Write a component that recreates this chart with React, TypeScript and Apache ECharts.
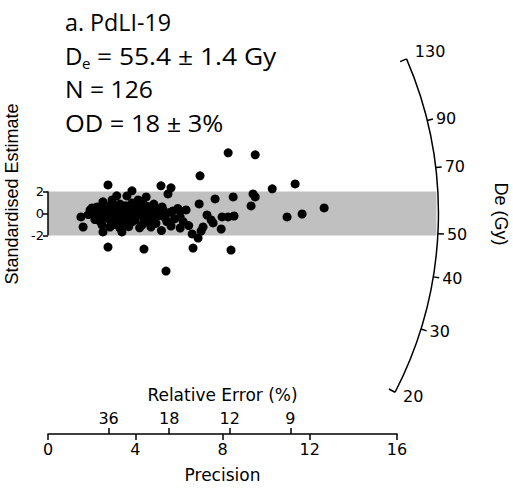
import React, { useEffect, useRef } from "react";
import * as echarts from "echarts";

// ---- data ----
const centralDe = 55.4; // Gy
const deTicks = [20, 30, 40, 50, 70, 90, 130];
const deEnds = [20, 130];
const relErrorTicks = [36, 18, 12, 9];
const precisionTicksMax = 16;
const bandHalfWidth = 2;
const arcRadius = 17.9; // in precision units

const precisionValues = [
  8.26, 9.5, 6.97, 10.28, 11.33, 9.4, 9.5, 9.31, 10.96, 11.65, 12.66,
  6.93, 7.66, 8.49, 7.29, 7.48, 7.57, 7.98, 8.26, 8.53, 7.11, 7.02, 6.61, 6.88, 7.94, 6.65, 8.39,
  5.18, 5.64, 5.5, 3.85, 4.5, 3.62, 4.13, 3.53, 3.76, 3.99, 4.22, 4.45, 4.68, 4.91, 5.23, 5.73, 6.06,
  6.33, 5.37, 6.06, 4.31, 4.72, 5.64, 6.06, 3.85, 4.91, 4.4, 5.41,
  2.75, 2.94, 2.52, 1.51, 1.61, 2.02, 2.25, 2.06, 2.29, 2.52, 2.71, 2.48, 2.52, 2.84, 3.17, 3.3,
  3.39, 2.98, 3.21, 3.49, 3.44, 2.75, 1.93,
  1.85, 2.15, 2.35, 2.4, 2.6, 2.65, 2.8, 2.85, 2.9, 3.0, 3.05, 3.1, 3.25, 3.3, 3.4, 3.45, 3.55, 3.6,
  3.65, 3.7, 3.8, 3.85, 3.9, 4.0, 4.05, 4.1, 4.2, 4.25, 4.35, 4.4, 4.5, 4.55, 4.6, 4.7, 4.8, 4.85,
  4.95, 5.0, 5.1, 5.2, 5.3, 5.45, 5.6, 5.8, 5.95, 6.2, 6.45, 3.15,
];
const standardisedValues = [
  5.5, 5.32, 3.41, 2.23, 2.68, 1.77, 1.5, 0.68, -0.32, -0.05, 0.5,
  0.86, 1.32, 1.5, -0.14, -0.59, -0.86, -0.32, -0.32, -0.23, -1.23, -1.59, -1.86, -2.23, -1.41, -3.14, -3.32,
  2.5, 2.32, 1.77, 2.05, 1.5, 1.59, 1.23, 0.5, 0.59, 0.41, 0.5, 0.23, 0.41, 0.5, 0.59, 0.23, 0.23,
  0.32, -0.41, -0.32, -1.05, -1.23, -1.14, -1.32, -0.77, -0.41, -3.23, -5.23,
  2.59, 1.23, 1.05, -0.32, -1.23, 0.5, 0.59, 0.05, -0.32, 0.14, -0.41, -1.05, -1.68, -1.23, -0.77, -1.32,
  -1.68, 0.59, 0.14, -0.05, -0.32, -3.05, 0.32,
  -0.1, -0.55, 0.3, -0.75, 0.45, -0.2, 0.25, -0.65, 0.8, -0.1, -1.0, 0.45, -0.45, 0.85, 0.1, -0.9, 0.7, -0.55,
  0.2, -1.2, -0.2, 0.95, 0.1, -0.6, 0.75, -0.15, -1.3, 0.05, 0.9, -0.45, -0.05, 0.65, -0.8, 0.1, -0.35, 0.85,
  -0.9, 0.05, -0.2, -1.55, 0.25, -0.75, 0.1, -0.5, 0.45, -0.75, -1.1, 1.6,
];

const titleLines = ["a. PdLI-19", "N = 126", "OD = 18 \u00b1 3%"];
const deLine = "= 55.4 \u00b1 1.4 Gy";

const AXIS_FONT = "DejaVu Sans";
const TITLE_FONT = "Open Sans";

export default function App() {
  const ref = useRef<HTMLDivElement>(null);
  useEffect(() => {
    if (!ref.current) return;
    const chart = echarts.init(ref.current, undefined, { renderer: "svg" });
    const z0 = Math.log(centralDe);
    const relPositions = relErrorTicks.map((e) => 100 / e);
    const points = precisionValues.map((p, i) => [p, standardisedValues[i]]);
    const black = "#000";
    const titleStyle = (text: string, size = 24) => ({
      text,
      fill: black,
      fontSize: size,
      fontFamily: TITLE_FONT,
      verticalAlign: "middle",
    });

    const option: any = {
      animation: false,
      grid: { left: 48, right: 116, top: 37, bottom: 56, outerBoundsMode: "none" },
      xAxis: [
        {
          type: "value",
          min: 0,
          max: precisionTicksMax,
          interval: 4,
          position: "bottom",
          axisLine: { show: true, onZero: false, lineStyle: { color: black, width: 1.5 } },
          axisTick: { show: true, length: 6, lineStyle: { color: black, width: 1.5 } },
          axisLabel: { color: black, fontSize: 16, fontFamily: AXIS_FONT, margin: 7 },
          splitLine: { show: false },
          name: "Precision",
          nameLocation: "middle",
          nameGap: 32,
          nameTextStyle: { color: black, fontSize: 17, fontFamily: AXIS_FONT },
        },
        {
          type: "value",
          min: 0,
          max: precisionTicksMax,
          position: "bottom",
          axisLine: { show: false, onZero: false },
          axisTick: {
            show: true,
            inside: true,
            length: 6,
            customValues: relPositions,
            lineStyle: { color: black, width: 1.5 },
          },
          axisLabel: {
            show: true,
            inside: true,
            customValues: relPositions,
            formatter: (v: number) => String(Math.round(100 / v)),
            color: black,
            fontSize: 16,
            fontFamily: AXIS_FONT,
            margin: 8,
          },
          splitLine: { show: false },
          name: "Relative Error (%)",
          nameLocation: "middle",
          nameGap: -48,
          nameTextStyle: { color: black, fontSize: 17, fontFamily: AXIS_FONT },
        },
      ],
      yAxis: {
        type: "value",
        min: -20,
        max: 16,
        axisLine: { show: false },
        axisTick: {
          show: true,
          length: 5,
          customValues: [-bandHalfWidth, 0, bandHalfWidth],
          lineStyle: { color: black, width: 1.5 },
        },
        axisLabel: {
          customValues: [-bandHalfWidth, 0, bandHalfWidth],
          color: black,
          fontSize: 13,
          fontFamily: AXIS_FONT,
          margin: 4,
        },
        splitLine: { show: false },
      },
      series: [
        {
          type: "custom",
          z: 1,
          clip: false,
          data: [[0, 0]],
          renderItem: (_p: any, api: any) => {
            const top = api.coord([0, bandHalfWidth]);
            const bot = api.coord([0, -bandHalfWidth]);
            const s = api.size([1, 1]);
            const R = arcRadius * s[0];
            return {
              type: "rect",
              shape: { x: top[0], y: top[1], width: R - 2, height: bot[1] - top[1] },
              style: { fill: "#c0c0c0" },
            };
          },
        },
        {
          type: "line",
          z: 2,
          data: [[0, -bandHalfWidth], [0, bandHalfWidth]],
          symbol: "none",
          lineStyle: { color: black, width: 1.5 },
        },
        {
          type: "custom",
          z: 2,
          clip: false,
          data: [[0, 0]],
          renderItem: (_p: any, api: any) => {
            const O = api.coord([0, 0]);
            const s = api.size([1, 1]);
            const sx = s[0];
            const sy = s[1];
            const R = arcRadius * sx;
            const theta = (d: number) => Math.atan2(sy * (Math.log(d) - z0), sx);
            const pt = (d: number, r: number) => {
              const t = theta(d);
              return [O[0] + r * Math.cos(t), O[1] - r * Math.sin(t)];
            };
            const children: any[] = [
              {
                type: "arc",
                shape: {
                  cx: O[0],
                  cy: O[1],
                  r: R,
                  startAngle: -theta(deEnds[1]),
                  endAngle: -theta(deEnds[0]),
                  clockwise: true,
                },
                style: { stroke: black, fill: "none", lineWidth: 1.5 },
              },
            ];
            deTicks.forEach((d) => {
              const isEnd = deEnds.includes(d);
              const a = pt(d, R);
              const b = pt(d, isEnd ? R - 7 : R + 6);
              children.push({
                type: "line",
                shape: { x1: a[0], y1: a[1], x2: b[0], y2: b[1] },
                style: { stroke: black, lineWidth: 1.5 },
              });
              const l = pt(d, R + 9);
              children.push({
                type: "text",
                x: l[0],
                y: l[1] - (d === deEnds[1] ? 4 : 0),
                style: {
                  text: String(d),
                  fill: black,
                  fontSize: 16,
                  fontFamily: AXIS_FONT,
                  align: "left",
                  verticalAlign: "middle",
                },
              });
            });
            return { type: "group", children };
          },
        },
        {
          type: "scatter",
          z: 3,
          clip: false,
          data: points,
          symbol: "circle",
          symbolSize: 9,
          itemStyle: { color: black, opacity: 1 },
        },
      ],
      graphic: [
        { type: "text", x: 65, y: 22, scaleX: 0.97, style: titleStyle(titleLines[0]) },
        { type: "text", x: 65, y: 55.5, style: titleStyle("D") },
        { type: "text", x: 82, y: 63, style: titleStyle("e", 15) },
        { type: "text", x: 97, y: 55.5, scaleX: 1.1, style: titleStyle(deLine) },
        { type: "text", x: 65, y: 89, scaleX: 1.03, style: titleStyle(titleLines[1]) },
        { type: "text", x: 65, y: 123, scaleX: 1.06, style: titleStyle(titleLines[2]) },
        {
          type: "text",
          x: 12,
          y: 194,
          rotation: Math.PI / 2,
          style: {
            text: "Standardised Estimate",
            fill: black,
            fontSize: 18,
            fontFamily: "Liberation Sans",
            align: "center",
            verticalAlign: "middle",
          },
        },
        {
          type: "text",
          x: 501,
          y: 214,
          rotation: -Math.PI / 2,
          style: {
            text: "De (Gy)",
            fill: black,
            fontSize: 18,
            fontFamily: "Liberation Sans",
            align: "center",
            verticalAlign: "middle",
          },
        },
      ],
    };
    chart.setOption(option);
    return () => chart.dispose();
  }, []);
  return <div ref={ref} style={{ width: 513, height: 490, position: "absolute", left: 0, top: 0 }} />;
}
